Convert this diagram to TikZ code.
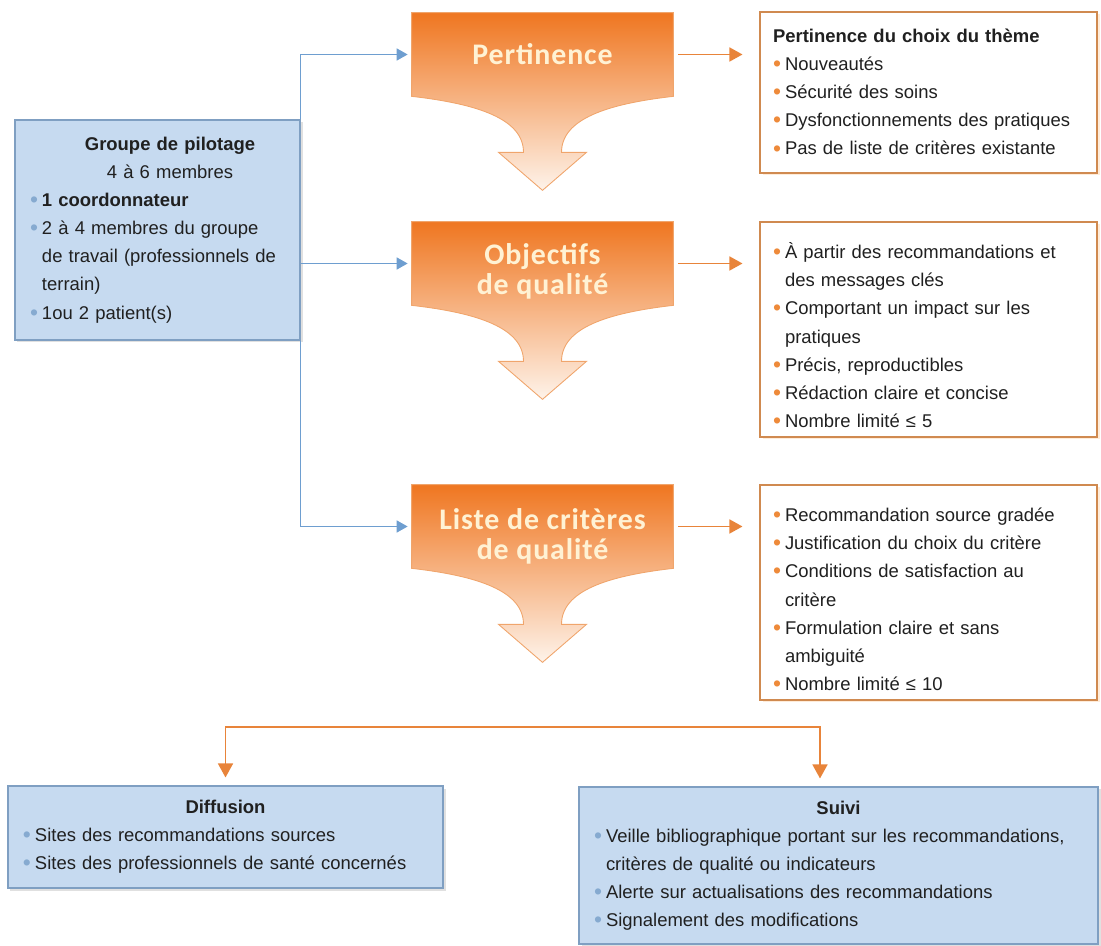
\documentclass[tikz,border=0pt]{standalone}
\usepackage{fontspec}
\setmainfont{Liberation Sans}
\newfontfamily\titrefont[LetterSpace=3]{Carlito}
\usepackage{xcolor}
\usepackage{tikz}
\usetikzlibrary{positioning,arrows.meta,shadows}

\definecolor{bleufond}{HTML}{C6DAF0}
\definecolor{bleubord}{HTML}{7F9FC2}
\definecolor{bleutrait}{HTML}{6E9ED0}
\definecolor{bleupuce}{HTML}{86AAD0}
\definecolor{ortrait}{HTML}{E8843A}
\definecolor{orbord}{HTML}{D08A50}
\definecolor{orpuce}{HTML}{EE8A3A}
\definecolor{ortop}{HTML}{EF7620}
\definecolor{ormid}{HTML}{F7A86C}
\definecolor{orbas}{HTML}{FEF3EA}
\definecolor{orarete}{HTML}{F0A56C}
\definecolor{titrecol}{HTML}{FFF2D4}
\definecolor{texte}{HTML}{202020}

\setlength{\parindent}{0pt}
\newcommand{\puce}[2]{\par\noindent\hangindent=0.24cm\hangafter=1%
  \makebox[0.24cm][l]{\textcolor{#1}{\fontsize{13}{13}\selectfont\raisebox{-0.6pt}{•}}}#2}

\begin{document}
\begin{tikzpicture}[
  bleubox/.style={draw=bleubord, fill=bleufond, line width=0.6pt, inner xsep=0.3cm, inner ysep=0pt,
    align=left, font=\fontsize{10.5}{16}\selectfont, text=texte,
    drop shadow={shadow xshift=0.05cm, shadow yshift=-0.05cm, fill=black, opacity=0.12}},
  orbox/.style={draw=orbord, fill=white, line width=0.6pt, inner xsep=0.26cm, inner ysep=0pt,
    align=left, font=\fontsize{10.5}{16}\selectfont, text=texte, text width=6.22cm, minimum height=4.3cm,
    drop shadow={shadow xshift=0.05cm, shadow yshift=-0.05cm, fill=orange, opacity=0.15}},
  bloc/.style={minimum width=5.22cm, minimum height=1.66cm, inner sep=0pt},
  titre/.style={font=\titrefont\bfseries\fontsize{17}{17.3}\selectfont, text=titrecol, align=center},
  bleuarr/.style={draw=bleutrait, line width=0.9pt, -{Triangle[length=2.2mm,width=2.4mm]}},
  orarr/.style={draw=ortrait, line width=0.9pt, -{Triangle[length=2.6mm,width=2.8mm]}},
  orarr2/.style={draw=ortrait, line width=0.9pt, {Triangle[length=2.8mm,width=3mm]}-{Triangle[length=2.8mm,width=3mm]}},
]
\useasboundingbox (0,0) rectangle (22.02,-18.92);

% groupe de pilotage
\node[bleubox, text width=5.1cm, minimum height=4.4cm] (groupe) at (3.15,-4.6) {%
  {\centering\hspace*{0.5cm}\textbf{Groupe de pilotage}\par\hspace*{0.5cm}4 à 6 membres\par}
  \puce{bleupuce}{\textbf{1 coordonnateur}}
  \puce{bleupuce}{2 à 4 membres du groupe\newline de travail (professionnels de\newline terrain)}
  \puce{bleupuce}{1ou 2 patient(s)}};

% les trois etapes
\node[bloc] (pert) at (10.85,-1.09) {};
\node[bloc] (obj) at (10.85,-5.27) {};
\node[bloc] (liste) at (10.85,-10.53) {};
\foreach \b in {pert,obj,liste} {
  \shade[top color=ortop, middle color=ormid, bottom color=orbas, draw=orarete, line width=0.5pt]
    (\b.north west) -- (\b.north east) -- (\b.south east)
    .. controls ([shift={(1.3,-0.15)}]\b.south) and ([shift={(0.38,-0.45)}]\b.south) .. ([shift={(0.38,-1.12)}]\b.south)
    -- ([shift={(0.88,-1.12)}]\b.south) -- ([shift={(0,-1.88)}]\b.south)
    -- ([shift={(-0.88,-1.12)}]\b.south) -- ([shift={(-0.38,-1.12)}]\b.south)
    .. controls ([shift={(-0.38,-0.45)}]\b.south) and ([shift={(-1.3,-0.15)}]\b.south) .. (\b.south west) -- cycle;
}
\node[titre] (pertt) at (pert.center) {Pertinence};
\node[titre] (objt) at ([yshift=-0.16cm]obj.center) {Objectifs\\de qualité};
\node[titre] (listet) at ([yshift=-0.2cm]liste.center) {Liste de critères\\de qualité};

\draw[bleuarr, shorten >=0.08cm] (groupe.north east) |- (pert.west);
\draw[bleuarr, shorten >=0.08cm] (groupe.east |- obj.west) -- (obj.west);
\draw[bleuarr, shorten >=0.08cm] (groupe.south east) |- (liste.west);

% encadres de droite
\node[orbox, minimum height=3.22cm] (theme) at (18.57,-1.85) {%
  \textbf{Pertinence du choix du thème}
  \puce{orpuce}{Nouveautés}
  \puce{orpuce}{Sécurité des soins}
  \puce{orpuce}{Dysfonctionnements des pratiques}
  \puce{orpuce}{Pas de liste de critères existante}};
\node[orbox] (qual) at (18.57,-6.59) {%
  \puce{orpuce}{À partir des recommandations et\newline des messages clés}
  \puce{orpuce}{Comportant un impact sur les\newline pratiques}
  \puce{orpuce}{Précis, reproductibles}
  \puce{orpuce}{Rédaction claire et concise}
  \puce{orpuce}{Nombre limité ≤ 5}};
\node[orbox] (crit) at (18.57,-11.85) {%
  \puce{orpuce}{Recommandation source gradée}
  \puce{orpuce}{Justification du choix du critère}
  \puce{orpuce}{Conditions de satisfaction au\newline critère}
  \puce{orpuce}{Formulation claire et sans\newline ambiguité}
  \puce{orpuce}{Nombre limité ≤ 10}};

\draw[orarr, shorten <=0.1cm, shorten >=0.34cm] (pert.east) -- (pert.east -| theme.west);
\draw[orarr, shorten <=0.1cm, shorten >=0.34cm] (obj.east) -- (obj.east -| qual.west);
\draw[orarr, shorten <=0.1cm, shorten >=0.34cm] (liste.east) -- (liste.east -| crit.west);

% diffusion et suivi
\node[bleubox, text width=8.1cm, minimum height=2.04cm] (diff) at (4.51,-16.74) {%
  {\centering\textbf{Diffusion}\par}
  \puce{bleupuce}{Sites des recommandations sources}
  \puce{bleupuce}{Sites des professionnels de santé concernés}};
\node[bleubox, text width=9.78cm, minimum height=3.14cm] (suivi) at (16.77,-17.31) {%
  {\centering\textbf{Suivi}\par}
  \puce{bleupuce}{Veille bibliographique portant sur les recommandations,\newline critères de qualité ou indicateurs}
  \puce{bleupuce}{Alerte sur actualisations des recommandations}
  \puce{bleupuce}{Signalement des modifications}};

\coordinate (barre) at (16.4,-14.54);
\draw[orarr2, shorten <=0.16cm, shorten >=0.16cm] (diff.north) |- (barre) -- (barre |- suivi.north);
\end{tikzpicture}
\end{document}
